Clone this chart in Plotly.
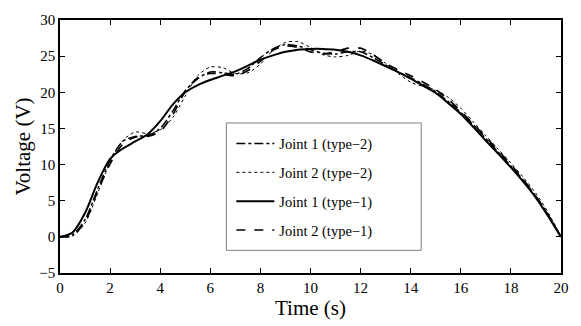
import plotly.graph_objects as go

time_s = [i * 0.5 for i in range(41)]

j1_type2 = [0, 0.3, 2.4, 6.6, 10.6, 13.2, 13.9, 14.0, 15.0, 17.4, 20.2, 21.9, 22.8, 22.7, 22.5,
            23.3, 24.8, 26.0, 26.6, 26.4, 25.9, 25.4, 25.3, 25.6, 25.6, 24.8, 23.8, 22.8, 22.0,
            21.1, 20.1, 18.7, 17.2, 15.5, 13.6, 11.7, 9.8, 7.8, 5.6, 3.0, 0]
j2_type2 = [0, 0.1, 1.9, 6.0, 10.3, 13.3, 14.5, 14.3, 14.8, 16.5, 19.5, 22.3, 23.5, 23.4, 22.6,
            22.7, 23.9, 25.8, 26.9, 27.0, 26.2, 25.2, 24.9, 25.1, 25.7, 25.2, 24.0, 22.6, 21.4,
            20.8, 20.3, 19.3, 17.8, 15.9, 14.0, 12.1, 10.2, 8.2, 6.0, 3.3, 0]
j1_type1 = [0, 0.6, 3.3, 7.5, 10.8, 12.2, 13.2, 14.2, 16.0, 18.3, 20.0, 21.0, 21.7, 22.3, 22.9,
            23.7, 24.5, 25.1, 25.6, 25.9, 26.0, 26.0, 25.9, 25.6, 25.1, 24.4, 23.6, 22.8, 21.9,
            20.9, 19.9, 18.5, 17.0, 15.2, 13.3, 11.5, 9.6, 7.6, 5.4, 2.8, 0]
j2_type1 = [0, 0.2, 2.1, 6.3, 10.1, 12.8, 13.8, 13.9, 14.6, 16.9, 20.1, 22.0, 22.6, 22.5, 22.3,
            23.0, 24.3, 25.8, 26.4, 26.2, 25.6, 25.3, 25.6, 26.1, 26.1, 25.2, 24.0, 23.1, 22.3,
            21.4, 20.4, 19.0, 17.4, 15.6, 13.8, 11.9, 10.0, 7.9, 5.6, 2.9, 0]

names = ["Joint 1 (type\u22122)", "Joint 2 (type\u22122)", "Joint 1 (type\u22121)", "Joint 2 (type\u22121)"]
series = [j1_type2, j2_type2, j1_type1, j2_type1]
dashes = ["dashdot", "dot", "solid", "dash"]
widths = [1.5, 1.0, 2.0, 1.7]

x_ticks = list(range(0, 21, 2))
y_ticks = list(range(-5, 31, 5))

FONT = "Liberation Serif, Times New Roman, serif"

fig = go.Figure()
for i, (nm, ys, d, w) in enumerate(zip(names, series, dashes, widths)):
    fig.add_trace(go.Scatter(x=time_s, y=ys, mode="lines", name=nm, legendgroup=f"g{i}",
                             line=dict(color="black", dash=d, width=w, shape="spline", smoothing=0.8)))

# legend frame
fig.add_shape(type="rect", xref="paper", yref="paper", x0=0.332, x1=0.721, y0=0.0896, y1=0.593,
              line=dict(color="#808080", width=1), fillcolor="white", layer="below")

fig.update_layout(
    width=581, height=326,
    margin=dict(l=60, r=15, t=14, b=44),
    paper_bgcolor="white", plot_bgcolor="white",
    font=dict(family=FONT, color="black", size=15),
    showlegend=True,
    legend=dict(x=0.342, y=0.575, xanchor="left", yanchor="top", bgcolor="rgba(0,0,0,0)",
                borderwidth=0, font=dict(family=FONT, size=14.5, color="black"),
                tracegroupgap=7, itemwidth=38, traceorder="grouped"),
    xaxis=dict(range=[0, 20], tickvals=x_ticks, ticks="inside", ticklen=5, tickwidth=1,
               tickcolor="black", showline=True, linecolor="black", linewidth=1.6, mirror="ticks",
               showgrid=False, zeroline=False, tickfont=dict(family=FONT, size=15, color="black"),
               title=dict(text="Time (s)", font=dict(family=FONT, size=21, color="black"), standoff=4)),
    yaxis=dict(range=[-5, 30], tickvals=y_ticks, ticks="inside", ticklen=5, tickwidth=1,
               tickcolor="black", showline=True, linecolor="black", linewidth=1.6, mirror="ticks",
               showgrid=False, zeroline=False, tickfont=dict(family=FONT, size=15, color="black"),
               title=dict(text="Voltage (V)", font=dict(family=FONT, size=21, color="black"), standoff=3)),
)

fig.write_html("out.html")
